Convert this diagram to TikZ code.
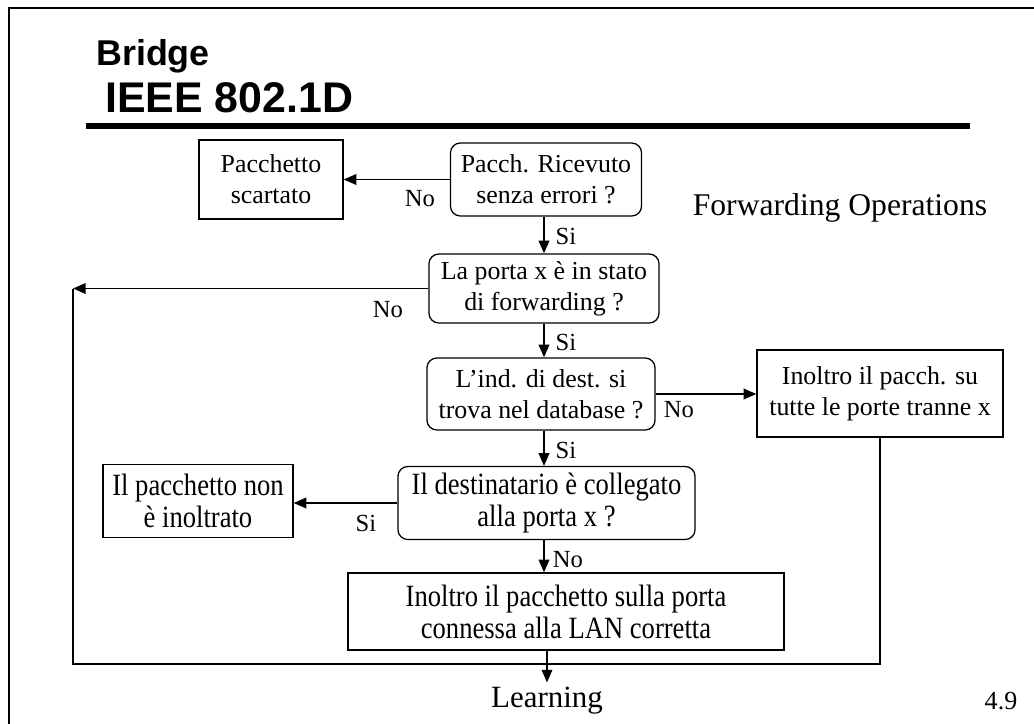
\documentclass[tikz,border=0pt]{standalone}
\usepackage{fontspec}
\setmainfont{Liberation Serif}
\newfontfamily\titlefont{Liberation Sans}
\newfontfamily\narrowfont[FakeStretch=0.86]{Liberation Serif}
\usetikzlibrary{arrows.meta}

\begin{document}
\begin{tikzpicture}[x=0.025cm, y=-0.025cm,
  box/.style={draw, line width=0.9pt, align=center, inner sep=0pt,
    font=\fontsize{18.4}{22}\selectfont},
  decision/.style={box, rounded corners=7pt},
  narrow/.style={font=\narrowfont\fontsize{22}{22.7}\selectfont},
  lbl/.style={inner sep=0pt, font=\fontsize{17.5}{20}\selectfont},
  arr/.style={line width=1.3pt, -{Triangle[length=9pt,width=7.5pt]}},
  loopline/.style={line width=1.9pt}]
  \useasboundingbox (0,0) rectangle (1034,724);

  % slide frame and title
  \draw[line width=1.8pt] (9,724) -- (9,8) -- (1034,8);
  \node[anchor=base west, inner sep=0pt, font=\titlefont\bfseries\fontsize{25.5}{28}\selectfont]
    (bridge) at (96,65) {Bridge};
  \node[anchor=base west, inner sep=0pt, font=\titlefont\bfseries\fontsize{30.5}{34}\selectfont]
    (ieee) at (105,112) {IEEE 802.1D};
  \draw[line width=3.6pt] (86,126) -- (970,126);

  \node[font=\fontsize{22.5}{26}\selectfont] (fwdop) at (840,208) {Forwarding Operations};

  % flow chart
  \node[box, minimum width=3.6cm, minimum height=1.975cm] (scart) at (271,179.5)
    {Pacchetto\\ scartato};
  \node[decision, minimum width=4.775cm, minimum height=1.825cm] (ricev) at (546,179.5)
    {Pacch. Ricevuto\\ senza errori ?};
  \node[decision, minimum width=5.75cm, minimum height=1.725cm] (stato) at (544,288.5)
    {La porta x è in stato\\ di forwarding ?};
  \node[decision, minimum width=5.7cm, minimum height=1.8cm] (dbase) at (541,394)
    {L’ind. di dest. si\\ trova nel database ?};
  \node[box, minimum width=6.15cm, minimum height=2.175cm] (tutte) at (880,393.5)
    {Inoltro il pacch. su\\ tutte le porte tranne x};
  \node[decision, narrow, minimum width=7.425cm, minimum height=1.825cm] (dest) at (546.5,503)
    {Il destinatario è collegato\\ alla porta x ?};
  \node[box, narrow, minimum width=4.75cm, minimum height=1.825cm] (noninol) at (198,501)
    {Il pacchetto non\\ è inoltrato};
  \node[box, narrow, minimum width=10.9cm, minimum height=1.925cm] (lan) at (566,611.5)
    {Inoltro il pacchetto sulla porta\\ connessa alla LAN corretta};
  \node[font=\fontsize{22}{26}\selectfont] (learn) at (547,701) {Learning};
  \node[font=\fontsize{18.5}{20}\selectfont] (pagenum) at (1001,701) {4.9};

  \coordinate (topleft) at (73,288.5);
  \coordinate (botleft) at (73,664);

  % labels
  \node[lbl] (no1) at (420,199) {No};
  \node[lbl] (si1) at (566,236) {Si};
  \node[lbl] (no2) at (388,310) {No};
  \node[lbl] (si2) at (566,342) {Si};
  \node[lbl] (no3) at (679,410) {No};
  \node[lbl] (si3) at (566,450) {Si};
  \node[lbl] (si4) at (366,523) {Si};
  \node[lbl] (no4) at (568,560) {No};

  % connectors
  \draw[arr] (ricev.west) -- (scart.east);
  \draw[arr] (ricev.south -| stato.north) -- (stato.north);
  \draw[arr] (stato.west) -- (topleft);
  \draw[arr] (stato.south) -- (stato.south |- dbase.north);
  \draw[arr] (dbase.east) -- (dbase.east -| tutte.west);
  \draw[arr] (dbase.south -| stato.south) -- (stato.south |- dest.north);
  \draw[arr] (dest.west) -- (dest.west -| noninol.east);
  \draw[arr] (dest.south -| stato.south) -- (stato.south |- lan.north);
  \draw[loopline] (tutte.south) |- (botleft) -- (topleft);
  \draw[arr] (lan.south -| learn.north) -- (learn.north);
\end{tikzpicture}
\end{document}
